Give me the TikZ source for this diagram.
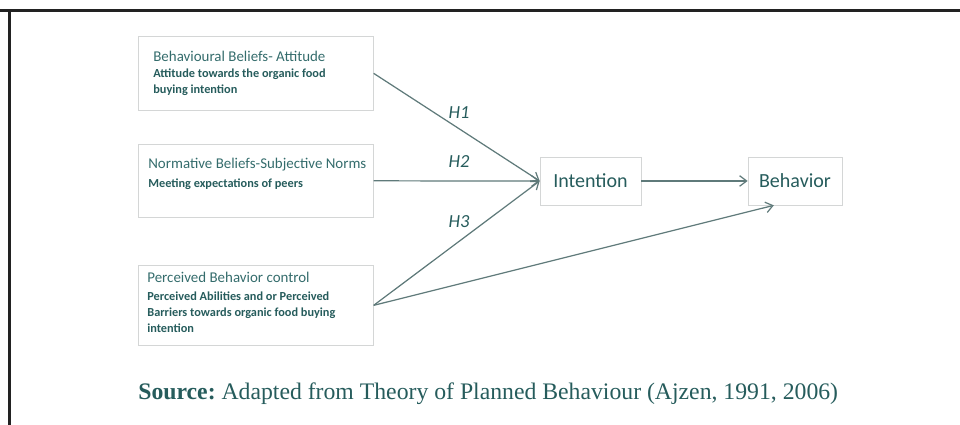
\documentclass[tikz,border=0pt]{standalone}
\usepackage{fontspec}
\setmainfont{Carlito}
\newfontfamily\capfont{Liberation Serif}
\usetikzlibrary{arrows.meta}

\definecolor{tealtext}{RGB}{38,92,92}
\definecolor{tealhead}{RGB}{52,108,108}
\definecolor{arrowgray}{RGB}{95,122,122}
\definecolor{boxgray}{RGB}{212,214,214}
\definecolor{framegray}{RGB}{34,34,34}

\newcommand{\headfont}{\fontsize{8.5}{9}\selectfont\mdseries\color{tealhead}}
\newcommand{\subfont}{\fontsize{7}{9}\selectfont\bfseries}
\newcommand{\headline}[1]{\mbox{\headfont #1}}

\tikzset{
  belief/.style={draw=boxgray, anchor=north west, text=tealtext, align=flush left,
    font=\subfont, inner ysep=0pt},
  construct/.style={draw=boxgray, text=tealtext, font=\fontsize{11.4}{13}\selectfont,
    inner sep=0pt},
  hyp/.style={text=tealtext, font=\fontsize{10.5}{12}\selectfont\itshape},
  path/.style={draw=arrowgray, line width=0.7pt, -{Straight Barb[length=4pt,width=6pt]}}
}

\begin{document}
\begin{tikzpicture}[x=0.02cm, y=-0.02cm]
\useasboundingbox (0,0) rectangle (960,425);

% frame
\draw[framegray, line width=2pt] (0,10.5) -- (960,10.5);
\draw[framegray, line width=2pt] (9.5,10) -- (9.5,425);

% beliefs
\node[belief, minimum height=1.48cm, inner xsep=0.3cm, text width=4.1cm] (att) at (138,36)
  {\headline{Behavioural Beliefs- Attitude}\\
   Attitude towards the organic food\\
   buying intention};
\node[belief, minimum height=1.46cm, inner xsep=0.2cm, text width=4.3cm] (norm) at (138,144)
  {\headline{Normative Beliefs-Subjective Norms}\\[1.7pt]
   Meeting expectations of peers\rule[-0.32cm]{0pt}{0pt}};
\node[belief, minimum height=1.6cm, inner xsep=0.18cm, text width=4.34cm] (pbc) at (138,265)
  {\headline{Perceived Behavior control}\\[1pt]
   Perceived Abilities and or Perceived\\
   Barriers towards organic food buying\\
   intention\rule[-0.12cm]{0pt}{0pt}};

% constructs
\node[construct, minimum width=2.02cm, minimum height=0.96cm] (int) at (590.5,181) {Intention};
\node[construct, minimum width=1.88cm, minimum height=0.96cm] (beh) at (795,181) {Behavior};

% paths
\draw[path] (att.east) -- (int.west);
\draw[path] (norm.east) -- (int.west);
\draw[path] (pbc.east) -- (int.west);
\draw[path] (int.east) -- (beh.west);
\draw[path] (pbc.east) -- (beh.229);

\node[hyp] (h1) at (459,113) {H1};
\node[hyp] (h2) at (459,162) {H2};
\node[hyp] (h3) at (459,222) {H3};

% source line
\node[anchor=base west, inner sep=0pt, text=tealtext, font=\capfont\fontsize{13.5}{15}\selectfont\frenchspacing]
  (src) at (138,399) {\textbf{Source:} Adapted from Theory of Planned Behaviour (Ajzen, 1991, 2006)};
\end{tikzpicture}
\end{document}
